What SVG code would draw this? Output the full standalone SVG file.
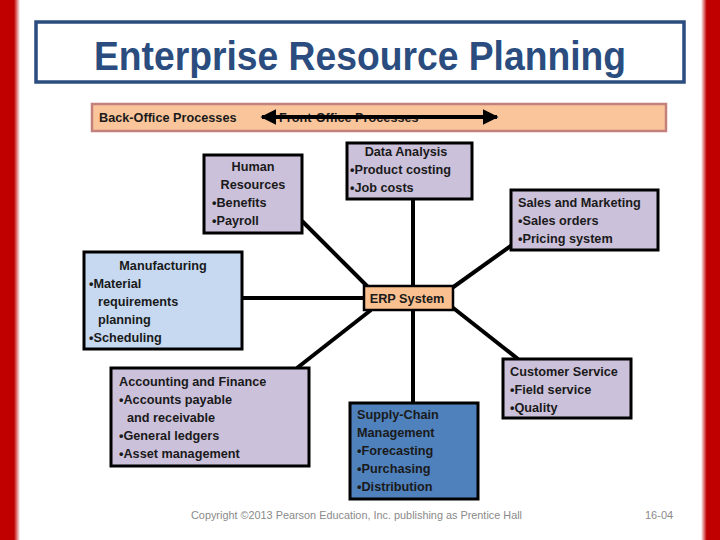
<svg xmlns="http://www.w3.org/2000/svg" width="720" height="540" viewBox="0 0 720 540">
<defs>
<style>
.box{stroke:#000;stroke-width:3}
.p{fill:#CCC1DA}
.t{font-family:"Liberation Sans",Arial,sans-serif;font-size:12.7px;font-weight:bold;fill:#1a1a1a}
.c{text-anchor:middle}
.ln{stroke:#000;stroke-width:4;fill:none}
</style>
<linearGradient id="lg" x1="0" x2="1" y1="0" y2="0">
<stop offset="0" stop-color="#C00000"/><stop offset="0.7" stop-color="#C00000"/><stop offset="1" stop-color="#C00000" stop-opacity="0"/>
</linearGradient>
<linearGradient id="rg" x1="1" x2="0" y1="0" y2="0">
<stop offset="0" stop-color="#C00000"/><stop offset="0.7" stop-color="#C00000"/><stop offset="1" stop-color="#C00000" stop-opacity="0"/>
</linearGradient>
<marker id="ah" viewBox="0 0 10 10" refX="9" refY="5" markerWidth="4" markerHeight="4" orient="auto-start-reverse">
<path d="M0,0 L10,5 L0,10 z" fill="#000"/>
</marker>
</defs>
<rect width="720" height="540" fill="#fff"/>
<rect x="0" y="0" width="20" height="540" fill="url(#lg)"/>
<rect x="701" y="0" width="19" height="540" fill="url(#rg)"/>

<g id="title">
<rect x="36" y="22" width="648" height="60" fill="#fff" stroke="#2B4C7E" stroke-width="3.5"/>
<text x="360" y="70" text-anchor="middle" font-family="Liberation Sans,Arial,sans-serif" font-size="40" font-weight="bold" fill="#2B4C7E" textLength="532" lengthAdjust="spacingAndGlyphs">Enterprise Resource Planning</text>
</g>

<g id="band">
<rect x="92" y="104" width="574" height="27" fill="#FAC59A" stroke="#C3817C" stroke-width="2.5"/>
<text class="t" x="99" y="122" font-weight="normal">Back-Office Processes</text>
<text class="t" x="279" y="122">Front-Office Processes</text>
</g>

<g id="connectors">
<line class="ln" x1="262" y1="117" x2="497" y2="117" stroke-width="2.5" marker-start="url(#ah)" marker-end="url(#ah)"/>
<line class="ln" x1="413" y1="199" x2="413" y2="287"/>
<line class="ln" x1="413" y1="310" x2="413" y2="403"/>
<line class="ln" x1="302" y1="221" x2="368" y2="287"/>
<line class="ln" x1="242" y1="298" x2="364" y2="298"/>
<line class="ln" x1="371" y1="310" x2="297" y2="368"/>
<line class="ln" x1="452" y1="288" x2="512" y2="245"/>
<line class="ln" x1="452" y1="307" x2="518" y2="359"/>
</g>

<g id="hr">
<rect class="box p" x="204" y="155" width="98" height="78"/>
<text class="t c" x="253" y="171">Human</text>
<text class="t c" x="253" y="189">Resources</text>
<text class="t" x="212" y="207">•Benefits</text>
<text class="t" x="212" y="225">•Payroll</text>
</g>

<g id="data">
<rect class="box p" x="347" y="143" width="125" height="56"/>
<text class="t c" x="406" y="156">Data Analysis</text>
<text class="t" x="350" y="174">•Product costing</text>
<text class="t" x="350" y="192">•Job costs</text>
</g>

<g id="sales">
<rect class="box p" x="511" y="190" width="147" height="60"/>
<text class="t" x="518" y="207">Sales and Marketing</text>
<text class="t" x="518" y="225">•Sales orders</text>
<text class="t" x="518" y="243">•Pricing system</text>
</g>

<g id="mfg">
<rect class="box" fill="#C6D9F1" x="84" y="252" width="158" height="97"/>
<text class="t c" x="163" y="270">Manufacturing</text>
<text class="t" x="89" y="288">•Material</text>
<text class="t" x="98" y="306">requirements</text>
<text class="t" x="98" y="324">planning</text>
<text class="t" x="89" y="342">•Scheduling</text>
</g>

<g id="erp">
<rect fill="#FAC090" stroke="#000" stroke-width="2.5" x="364" y="286" width="89" height="24"/>
<text class="t c" x="407" y="303">ERP System</text>
</g>

<g id="acct">
<rect class="box p" x="111" y="368" width="198" height="98"/>
<text class="t" x="119" y="386">Accounting and Finance</text>
<text class="t" x="119" y="404">•Accounts payable</text>
<text class="t" x="127" y="422">and receivable</text>
<text class="t" x="119" y="440">•General ledgers</text>
<text class="t" x="119" y="458">•Asset management</text>
</g>

<g id="scm">
<rect class="box" fill="#4F81BD" x="350" y="403" width="128" height="96"/>
<text class="t" x="357" y="419">Supply-Chain</text>
<text class="t" x="357" y="437">Management</text>
<text class="t" x="357" y="455">•Forecasting</text>
<text class="t" x="357" y="473">•Purchasing</text>
<text class="t" x="357" y="491">•Distribution</text>
</g>

<g id="cs">
<rect class="box p" x="503" y="359" width="128" height="59"/>
<text class="t" x="510" y="376">Customer Service</text>
<text class="t" x="510" y="394">•Field service</text>
<text class="t" x="510" y="412">•Quality</text>
</g>

<g id="footer">
<text x="191" y="519" font-family="Liberation Sans,Arial,sans-serif" font-size="11" fill="#8a8a8a" textLength="331" lengthAdjust="spacingAndGlyphs">Copyright ©2013 Pearson Education, Inc. publishing as Prentice Hall</text>
<text x="645" y="519" font-family="Liberation Sans,Arial,sans-serif" font-size="11" fill="#8a8a8a">16-04</text>
</g>
</svg>
